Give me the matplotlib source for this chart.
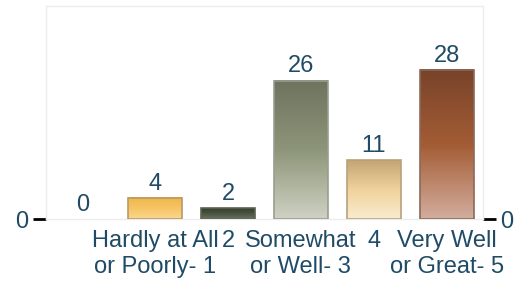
import matplotlib.pyplot as plt
import numpy as np
from matplotlib.colors import LinearSegmentedColormap
from matplotlib.patches import Rectangle

plt.rcParams["font.family"] = ["Liberation Sans", "DejaVu Sans"]

categories = ["", "Hardly at All\nor Poorly- 1", "2", "Somewhat\nor Well- 3", "4", "Very Well\nor Great- 5"]
values = [0, 4, 2, 26, 11, 28]
# gradient stops per bar: top, middle, bottom
bar_colors = [
    ["#ffffff", "#ffffff", "#ffffff"],
    ["#f0b548", "#f6c465", "#fbd88e"],
    ["#333d2a", "#4a5440", "#6a7260"],
    ["#6e735e", "#8d9579", "#cfd2c3"],
    ["#c2a574", "#f0d29b", "#faecd0"],
    ["#78432a", "#a35c34", "#d3ad9e"],
]
edge_colors = ["#ffffff", "#b99a66", "#5c6452", "#9a9d90", "#b8a27c", "#8a6a5a"]

TEXT = "#1f4b66"
BAR_W = 0.74
FS = 17

fig = plt.figure(figsize=(5.25, 2.82), dpi=100)
ax = fig.add_axes([0.0876, 0.2234, 0.8324, 0.7553])
x = np.arange(len(categories))
ax.set_xlim(-0.5, len(categories) - 0.5)
ax.set_ylim(0, 40)

grad = np.linspace(0, 1, 256).reshape(-1, 1)
for i, (v, cols) in enumerate(zip(values, bar_colors)):
    if v > 0:
        cmap = LinearSegmentedColormap.from_list(f"g{i}", cols[::-1])
        x0, x1 = x[i] - BAR_W / 2, x[i] + BAR_W / 2
        ax.imshow(grad, cmap=cmap, extent=(x0, x1, 0, v), origin="lower",
                  aspect="auto", zorder=2, interpolation="bilinear")
        ax.add_patch(Rectangle((x0, 0), BAR_W, v, fill=False,
                               edgecolor=edge_colors[i], linewidth=1.2, zorder=3))
    ax.text(x[i], v + 0.6, str(v), ha="center", va="bottom",
            fontsize=FS, color=TEXT, zorder=4)

ax.set_xticks(x)
ax.set_xticklabels(categories, fontsize=FS, color=TEXT, linespacing=1.25)
ax.tick_params(axis="x", length=0, pad=8)
ax.set_yticks([0])
ax.set_yticklabels(["0"], fontsize=FS, color=TEXT)
ax.tick_params(axis="y", length=9.5, width=2, color="black", pad=3,
               right=True, labelright=True)
for s in ax.spines.values():
    s.set_color("#ececec")
    s.set_linewidth(1)

fig.savefig("out.png", dpi=100)
